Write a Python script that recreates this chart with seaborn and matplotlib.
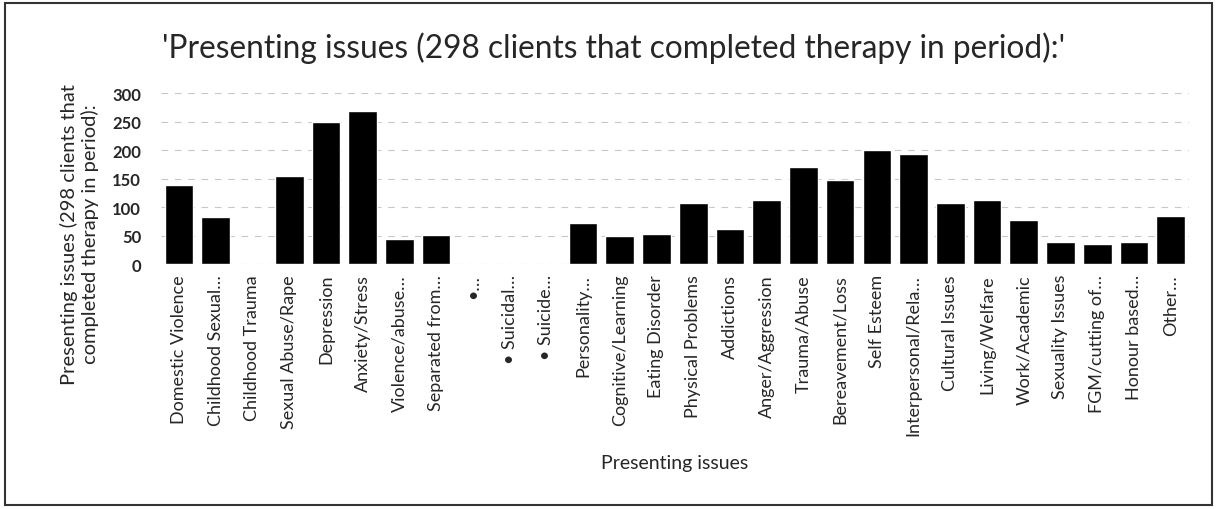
import pandas as pd
import seaborn as sns
import matplotlib.pyplot as plt
from matplotlib.patches import Rectangle

# Presenting issues and number of clients for each
issues = [
    "Domestic Violence", "Childhood Sexual…", "Childhood Trauma", "Sexual Abuse/Rape",
    "Depression", "Anxiety/Stress", "Violence/abuse…", "Separated from…",
    "•…", "• Suicidal…", "• Suicide…", "Personality…",
    "Cognitive/Learning", "Eating Disorder", "Physical Problems", "Addictions",
    "Anger/Aggression", "Trauma/Abuse", "Bereavement/Loss", "Self Esteem",
    "Interpersonal/Rela…", "Cultural Issues", "Living/Welfare", "Work/Academic",
    "Sexuality Issues", "FGM/cutting of…", "Honour based…", "Other…",
]
clients = [
    139, 83, 0, 155,
    250, 269, 44, 51,
    0, 0, 0, 73,
    49, 53, 108, 61,
    113, 170, 148, 200,
    194, 108, 113, 78,
    39, 36, 39, 84,
]
y_ticks = [0, 50, 100, 150, 200, 250, 300]

df = pd.DataFrame({"issue": issues, "clients": clients})

sns.set_style("white")
plt.rcParams['font.family'] = ['Lato', 'DejaVu Sans']

fig = plt.figure(figsize=(12.17, 5.10), dpi=100)
ax = fig.add_axes([0.132, 0.48, 0.845, 0.335])

sns.barplot(data=df, x="issue", y="clients", color="black", width=0.78,
            saturation=1, ax=ax)

ax.set_ylim(0, 300)
ax.set_yticks(y_ticks)
ax.set_yticklabels([str(t) for t in y_ticks], fontsize=12, fontweight="bold")
ax.tick_params(axis="x", labelrotation=90, labelsize=13, length=0, pad=7)
ax.tick_params(axis="y", length=0, pad=14)
for lab in ax.get_xticklabels():
    lab.set_verticalalignment("top")

ax.yaxis.grid(True, color="#c8c8c8", linestyle=(0, (6, 6)), linewidth=0.8)
ax.set_axisbelow(True)
for s in ax.spines.values():
    s.set_visible(False)

ax.set_xlabel("Presenting issues", fontsize=14, labelpad=14)
ax.set_ylabel("Presenting issues (298 clients that\ncompleted therapy in period):",
              fontsize=14.5, labelpad=8)
ax.yaxis.set_label_coords(-0.06, 0.18)
fig.text(0.504, 0.905,
         "'Presenting issues (298 clients that completed therapy in period):'",
         fontsize=22.8, ha="center", va="center")

# scanned page frame
fig.patches.append(Rectangle((0.004, 0.008), 0.992, 0.984, transform=fig.transFigure,
                             fill=False, edgecolor="#333333", linewidth=1.5))

fig.savefig("out.png", dpi=100)
